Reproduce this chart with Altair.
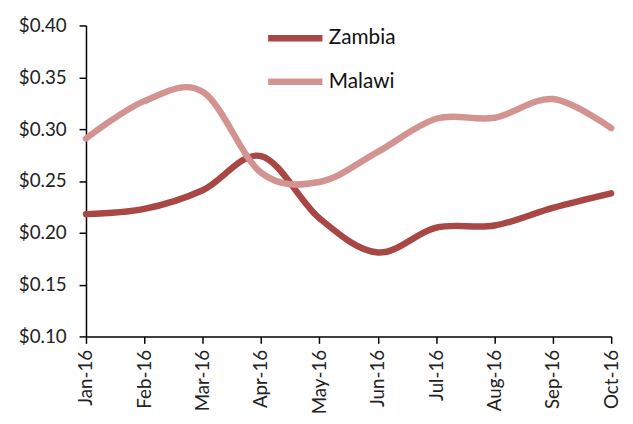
import altair as alt
import pandas as pd

months = ["Jan-16", "Feb-16", "Mar-16", "Apr-16", "May-16", "Jun-16",
          "Jul-16", "Aug-16", "Sep-16", "Oct-16"]
zambia = [0.218, 0.223, 0.241, 0.274, 0.214, 0.181, 0.205, 0.207, 0.224, 0.238]
malawi = [0.291, 0.327, 0.336, 0.258, 0.249, 0.278, 0.310, 0.311, 0.329, 0.301]
series = ["Zambia", "Malawi"]
colors = ["#A94744", "#D39391"]
y_ticks = [0.10, 0.15, 0.20, 0.25, 0.30, 0.35, 0.40]

rows = []
for i, m in enumerate(months):
    rows.append({"month": m, "order": i, "country": "Zambia", "price": zambia[i]})
    rows.append({"month": m, "order": i, "country": "Malawi", "price": malawi[i]})
df = pd.DataFrame(rows)

FONT = "Lato"

chart = alt.Chart(df).mark_line(
    interpolate="cardinal", tension=0, strokeWidth=6.5, strokeCap="round", strokeJoin="round"
).encode(
    x=alt.X("month:N", sort=months, scale=alt.Scale(type="point", padding=0),
            axis=alt.Axis(title=None, labelAngle=270, tickSize=7, labelPadding=6,
                          labelFontSize=19, labelColor="#222222")),
    y=alt.Y("price:Q", scale=alt.Scale(domain=[0.10, 0.40], nice=False, zero=False),
            axis=alt.Axis(title=None, values=y_ticks, format="$.2f", tickSize=7,
                          labelPadding=13, labelFontSize=19, labelColor="#222222",
                          grid=False)),
    color=alt.Color("country:N", sort=series,
                    scale=alt.Scale(domain=series, range=colors),
                    legend=alt.Legend(title=None, orient="none", legendX=181, legendY=-18,
                                      symbolType="stroke", symbolSize=3025,
                                      symbolStrokeWidth=6.5, labelFontSize=21,
                                      labelColor="#111111", labelOffset=3,
                                      rowPadding=0)),
    order="order:Q",
).properties(
    width=532, height=315,
    autosize=alt.AutoSizeParams(type="none"),
    padding={"left": 79, "top": 15, "right": 14, "bottom": 85},
).configure_axis(
    domainColor="#000000", domainWidth=1.5, tickColor="#000000", tickWidth=1.5,
    labelFont=FONT, grid=False,
).configure_legend(
    labelFont=FONT,
).configure_view(
    stroke=None,
)

chart.save("out.html", embed_options={"renderer": "svg", "actions": False})
